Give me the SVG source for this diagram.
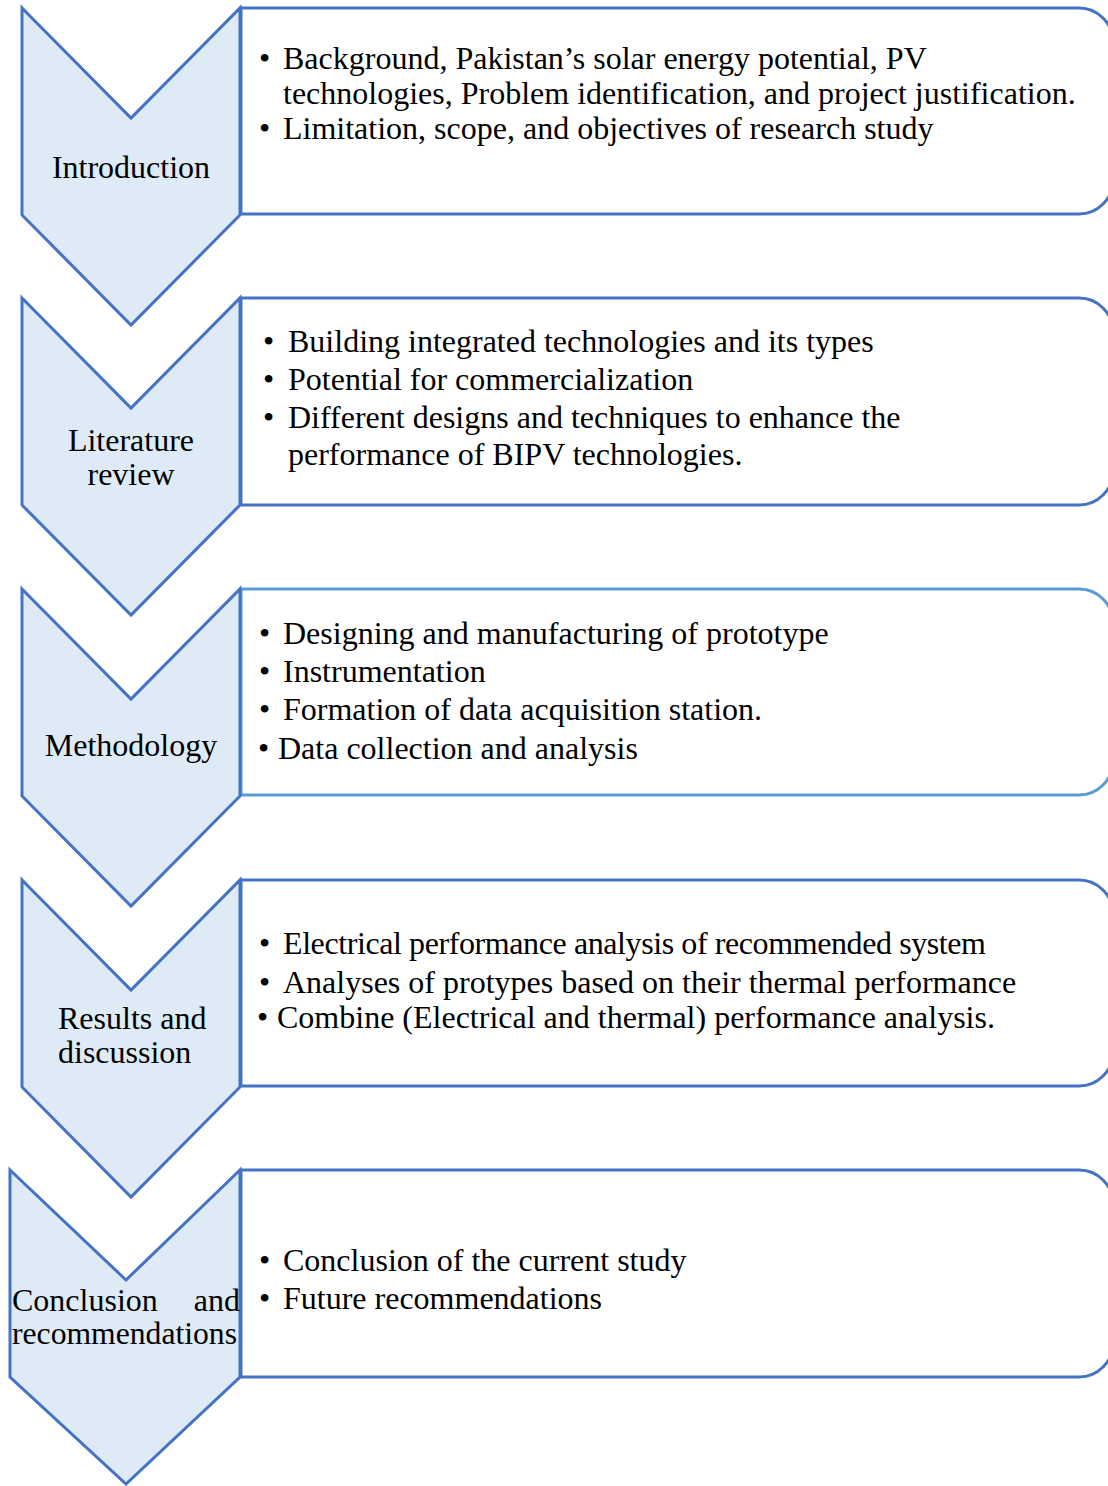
<svg xmlns="http://www.w3.org/2000/svg" width="1108" height="1486" viewBox="0 0 1108 1486">
  <style>
    .chev { fill: #DEEAF6; stroke: #4472C4; stroke-width: 3; stroke-linejoin: miter; }
    .box { fill: #FFFFFF; stroke: #4472C4; stroke-width: 3; }
    .box.alt { stroke: #5B9BD5; }
    text { font-family: "Liberation Serif", "Times New Roman", serif; font-size: 32px; fill: #000000; }
  </style>
  <rect width="1108" height="1486" fill="#FFFFFF"/>

  <g id="connectors"></g>

  <!-- Stage 1 -->
  <g id="introduction">
    <path class="box" d="M241,8 H1079 A34,34 0 0 1 1113,42 V180 A34,34 0 0 1 1079,214 H241 Z"/>
    <polygon class="chev" points="22,8 131,118 240,8 240,215 131,325 22,215"/>
    <text x="131" y="178" text-anchor="middle">Introduction</text>
    <text x="259" y="69">•</text><text x="283" y="69">Background, Pakistan’s solar energy potential, PV</text>
    <text x="283" y="104">technologies, Problem identification, and project justification.</text>
    <text x="259" y="139">•</text><text x="283" y="139">Limitation, scope, and objectives of research study</text>
  </g>

  <!-- Stage 2 -->
  <g id="literature-review">
    <path class="box" d="M241,298 H1079 A34,34 0 0 1 1113,332 V471 A34,34 0 0 1 1079,505 H241 Z"/>
    <polygon class="chev" points="22,298 131,408 240,298 240,505 131,615 22,505"/>
    <text x="131" y="451" text-anchor="middle">Literature</text>
    <text x="131" y="485" text-anchor="middle">review</text>
    <text x="263" y="352">•</text><text x="288" y="352">Building integrated technologies and its types</text>
    <text x="263" y="390">•</text><text x="288" y="390">Potential for commercialization</text>
    <text x="263" y="428">•</text><text x="288" y="428">Different designs and techniques to enhance the</text>
    <text x="288" y="465">performance of BIPV technologies.</text>
  </g>

  <!-- Stage 3 -->
  <g id="methodology">
    <path class="box alt" d="M241,589 H1079 A34,34 0 0 1 1113,623 V761 A34,34 0 0 1 1079,795 H241 Z"/>
    <polygon class="chev" points="22,589 131,699 240,589 240,796 131,906 22,796"/>
    <text x="131" y="756" text-anchor="middle">Methodology</text>
    <text x="259" y="644">•</text><text x="283" y="644">Designing and manufacturing of prototype</text>
    <text x="259" y="682">•</text><text x="283" y="682">Instrumentation</text>
    <text x="259" y="720">•</text><text x="283" y="720">Formation of data acquisition station.</text>
    <text x="258" y="759">•</text><text x="278" y="759">Data collection and analysis</text>
  </g>

  <!-- Stage 4 -->
  <g id="results-discussion">
    <path class="box" d="M241,880 H1079 A34,34 0 0 1 1113,914 V1052 A34,34 0 0 1 1079,1086 H241 Z"/>
    <polygon class="chev" points="22,880 131,990 240,880 240,1087 131,1197 22,1087"/>
    <text x="58" y="1029">Results and</text>
    <text x="58" y="1063">discussion</text>
    <text x="259" y="954">•</text><text x="283" y="954" textLength="703" lengthAdjust="spacing">Electrical performance analysis of recommended system</text>
    <text x="259" y="993">•</text><text x="283" y="993">Analyses of protypes based on their thermal performance</text>
    <text x="257" y="1028">•</text><text x="277" y="1028">Combine (Electrical and thermal) performance analysis.</text>
  </g>

  <!-- Stage 5 -->
  <g id="conclusion-recommendations">
    <path class="box" d="M241,1170 H1079 A34,34 0 0 1 1113,1204 V1343 A34,34 0 0 1 1079,1377 H241 Z"/>
    <polygon class="chev" points="10,1170 126,1280 240,1170 240,1377 126,1484 10,1377"/>
    <text x="12" y="1311">Conclusion</text>
    <text x="240" y="1311" text-anchor="end">and</text>
    <text x="12" y="1344" textLength="225" lengthAdjust="spacingAndGlyphs">recommendations</text>
    <text x="259" y="1271">•</text><text x="283" y="1271">Conclusion of the current study</text>
    <text x="259" y="1309">•</text><text x="283" y="1309">Future recommendations</text>
  </g>
</svg>
